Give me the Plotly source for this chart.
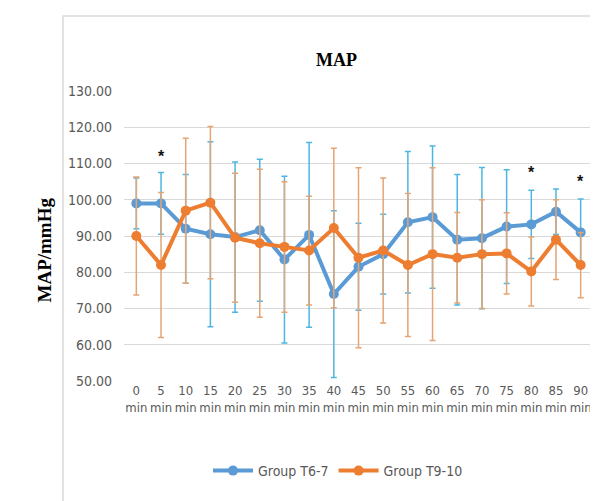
import plotly.graph_objects as go

categories = ["0<br>min", "5<br>min", "10<br>min", "15<br>min", "20<br>min", "25<br>min", "30<br>min",
              "35<br>min", "40<br>min", "45<br>min", "50<br>min", "55<br>min", "60<br>min", "65<br>min",
              "70<br>min", "75<br>min", "80<br>min", "85<br>min", "90<br>min"]

t67_mean = [99, 99, 92, 90.5, 89.7, 91.6, 83.5, 90.3, 74, 81.5, 85, 93.8, 95.2, 89, 89.4, 92.6, 93.2, 96.7, 91]
t67_sd = [7, 8.5, 15, 25.5, 20.7, 19.6, 23, 25.5, 23, 12, 11, 19.5, 19.6, 18, 19.5, 15.7, 9.4, 6.3, 9.2]

t910_mean = [90, 82, 97, 99.2, 89.5, 88, 87, 86, 92.2, 84, 86, 82, 85, 84, 85, 85.2, 80.2, 89, 82]
t910_sd = [16.3, 20, 20, 21, 17.8, 20.4, 18, 15, 22, 24.8, 20, 19.7, 23.8, 12.5, 15, 11.2, 9.5, 11, 9]

star_cats = ["5<br>min", "80<br>min", "90<br>min"]
star_y = [110.3, 106, 103.4]

y_ticks = [50, 60, 70, 80, 90, 100, 110, 120, 130]

BLUE = "#5B9BD5"
ORANGE = "#ED7D31"
TICK = "#595959"
FONT = "DejaVu Sans Condensed, DejaVu Sans, sans-serif"

fig = go.Figure()
fig.add_trace(go.Scatter(
    x=categories, y=t67_mean, name="Group T6-7", mode="lines+markers",
    line=dict(color=BLUE, width=4), marker=dict(color=BLUE, size=10),
    error_y=dict(type="data", array=t67_sd, visible=True, color="#4DB6E2", thickness=1.5, width=3),
))
fig.add_trace(go.Scatter(
    x=categories, y=t910_mean, name="Group T9-10", mode="lines+markers",
    line=dict(color=ORANGE, width=4), marker=dict(color=ORANGE, size=10),
    error_y=dict(type="data", array=t910_sd, visible=True, color="#E5A473", thickness=1.5, width=3),
))

for c, yv in zip(star_cats, star_y):
    fig.add_annotation(x=c, y=yv, text="<b>*</b>", showarrow=False, xref="x", yref="y", yshift=6,
                       font=dict(size=16, color="#111111", family="Liberation Sans"))

L, R, T, B = 116, 13, 83, 128
W, H = 598, 501
pw = W - L - R
ph = H - T - B

def px2x(px):
    return (px - L) / pw

def py2y(py):
    return (H - B - py) / ph

fig.add_shape(type="rect", xref="paper", yref="paper",
              x0=px2x(55), x1=px2x(605), y0=py2y(499), y1=py2y(8),
              line=dict(color="#d9d9d9", width=1.5), fillcolor="rgba(0,0,0,0)", layer="below")

fig.add_annotation(text="<b>MAP</b>", xref="paper", yref="paper", x=px2x(328), y=py2y(40),
                   showarrow=False, font=dict(family="Liberation Serif", size=18, color="#000000"))
fig.add_annotation(text="<b>MAP/mmHg</b>", xref="paper", yref="paper", x=px2x(23), y=py2y(242),
                   showarrow=False, textangle=-90,
                   font=dict(family="Liberation Serif", size=19, color="#000000"))

fig.update_layout(
    width=W, height=H, margin=dict(l=L, r=R, t=T, b=B),
    paper_bgcolor="white", plot_bgcolor="white",
    showlegend=True,
    legend=dict(orientation="h", x=px2x(330), xanchor="center", y=py2y(463), yanchor="middle",
                font=dict(family=FONT, size=14, color=TICK), itemwidth=40),
    font=dict(family=FONT, color=TICK),
)
fig.update_xaxes(type="category", range=[-0.5, 18.5], showgrid=False, zeroline=False, showline=False,
                 tickfont=dict(family=FONT, size=13, color=TICK), ticks="", tickangle=0)
fig.update_yaxes(range=[50, 130], tickvals=y_ticks, tickformat=".2f", showgrid=True, gridcolor="#d9d9d9",
                 gridwidth=1, zeroline=False, showline=False,
                 tickfont=dict(family=FONT, size=14, color=TICK), ticks="", ticklabelstandoff=11)

fig.write_html("out.html")
